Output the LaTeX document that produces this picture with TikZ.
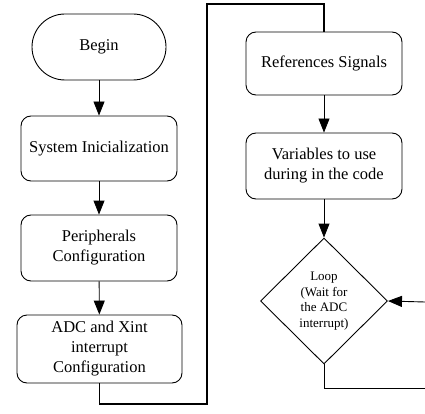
\documentclass[tikz,border=0pt]{standalone}
\usepackage{fontspec}
\setmainfont{Liberation Serif}
\usetikzlibrary{arrows.meta,shapes.geometric}
\begin{document}
\begin{tikzpicture}[x=1pt,y=-1pt,
  box/.style={draw,rounded corners=10pt,line width=0.9pt,align=center,
    inner sep=0pt,font=\fontsize{16.5}{20}\selectfont},
  term/.style={box,rounded corners=33pt},
  decision/.style={draw,diamond,line width=0.9pt,align=center,inner sep=0pt,
    font=\fontsize{13}{15.5}\selectfont},
  arr/.style={line width=0.9pt,-{Triangle[length=14pt,width=11pt]}},
  link/.style={line width=0.9pt},
  bus/.style={line width=1.8pt}
]
\useasboundingbox (0,0) rectangle (425,414);

% left column
\node[term,minimum width=134pt,minimum height=66pt] (begin) at (99,47) {Begin};
\node[box,minimum width=156pt,minimum height=65pt] (sys) at (99,148.5) {System Inicialization};
\node[box,minimum width=156pt,minimum height=66pt] (per) at (99,248) {Peripherals\\Configuration};
\node[box,minimum width=165pt,minimum height=68pt] (adc) at (99.5,349) {ADC and Xint\\interrupt\\Configuration};

% right column
\node[box,minimum width=156pt,minimum height=63pt] (ref) at (324,63.5) {References Signals};
\node[box,minimum width=156pt,minimum height=66pt] (var) at (324,166) {Variables to use\\during in the code};
\node[decision,minimum width=127pt,minimum height=126pt] (loop) at (324,301) {Loop\\(Wait for\\the ADC\\interrupt)};

% free ends and bends
\coordinate (b1) at (207,404);
\coordinate (b2) at (207,4);
\coordinate (lin) at (425,302);
\coordinate (lout) at (425,388);

\draw[arr] (begin) -- (sys);
\draw[arr] (sys) -- (per);
\draw[arr] (per) -- (adc);
\draw[bus] (adc.south) |- (b1) -- (b2) -| (ref.north);
\draw[arr] (ref) -- (var);
\draw[arr] (var) -- (loop.north);
\draw[arr] (lin) -- (loop.east);
\draw[link] (loop.south) |- (lout);
\end{tikzpicture}
\end{document}
